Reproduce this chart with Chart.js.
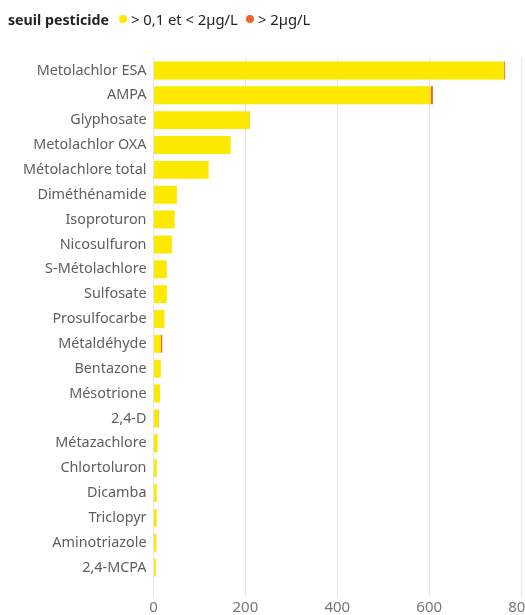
<!DOCTYPE html>
<html><head><meta charset="utf-8">
<script src="https://cdn.jsdelivr.net/npm/chart.js@4.4.1/dist/chart.umd.min.js"></script>
<style>
html,body{margin:0;padding:0;background:#fff;overflow:hidden;}
#wrap{position:relative;width:525px;height:615px;overflow:hidden;}
#legend{position:absolute;left:8px;top:9px;font-family:"Noto Sans",sans-serif;font-size:14.8px;color:#252423;white-space:nowrap;display:flex;align-items:center;}
#legend b{margin-right:10px;font-size:14.2px;}
.dot{display:inline-block;width:8px;height:8px;border-radius:50%;margin-right:4px;}
.it{margin-right:8px;display:flex;align-items:center;color:#252423}
#cv{position:absolute;left:0;top:0;}
</style></head>
<body>
<div id="wrap">
<canvas id="cv" width="536" height="619" style="width:536px;height:619px"></canvas>
<div id="legend"></div>
</div>
<script>
const categories = ["Metolachlor ESA","AMPA","Glyphosate","Metolachlor OXA","Métolachlore total","Diméthénamide","Isoproturon","Nicosulfuron","S-Métolachlore","Sulfosate","Prosulfocarbe","Métaldéhyde","Bentazone","Mésotrione","2,4-D","Métazachlore","Chlortoluron","Dicamba","Triclopyr","Aminotriazole","2,4-MCPA"];
const seriesNames = ["> 0,1 et < 2µg/L","> 2µg/L"];
const lowValues  = [763,603,209,168,120,51,46,40,29,29,24,16,16,14,11,9,7,7,7,6.5,5];
const highValues = [2,5,1,0,0,0,0,0,0,0,0,3,0,0,1,0,0,0,0,0,0];
const xTicks = [0,200,400,600,800];
const legendTitle = "seuil pesticide";
const colors = ["#FDE800","#F2622A"];

const lg = document.getElementById('legend');
lg.innerHTML = '<b>'+legendTitle+'</b>' + seriesNames.map((n,i)=>'<span class="it"><span class="dot" style="background:'+colors[i]+'"></span>'+n.replace(/</g,'&lt;')+'</span>').join('');

Chart.defaults.font.family = '"Noto Sans", sans-serif';
new Chart(document.getElementById('cv'), {
  type: 'bar',
  data: {
    labels: categories,
    datasets: [
      {label: seriesNames[0], data: lowValues, backgroundColor: colors[0], categoryPercentage: 0.72, barPercentage: 1},
      {label: seriesNames[1], data: highValues, backgroundColor: colors[1], categoryPercentage: 0.72, barPercentage: 1}
    ]
  },
  options: {
    indexAxis: 'y',
    responsive: false,
    animation: false,
    layout: {padding: {top: 58, left: 0, right: 0, bottom: 0}},
    plugins: {legend: {display: false}, tooltip: {enabled: false}},
    scales: {
      x: {
        stacked: true, min: 0, max: 800,
        afterBuildTicks: s => { s.ticks = xTicks.map(v => ({value: v})); },
        grid: {color: '#e6e6e6', tickLength: 17, drawTicks: true},
        border: {display: false},
        ticks: {color: '#777', font: {size: 15}, padding: 2, maxRotation: 0}
      },
      y: {
        stacked: true,
        afterFit: s => { s.width = 153.5; },
        grid: {display: false, drawTicks: false},
        border: {display: false},
        ticks: {color: '#605e5c', font: {size: 14.4}, padding: 7, autoSkip: false}
      }
    }
  }
});
</script>
</body></html>
